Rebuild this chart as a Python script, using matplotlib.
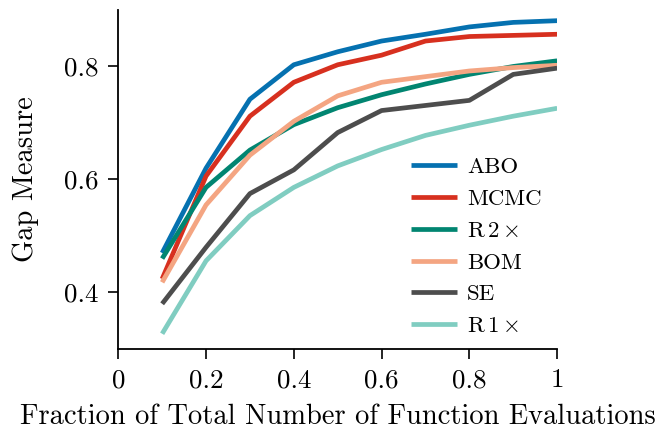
import matplotlib
matplotlib.use("Agg")
import matplotlib.pyplot as plt

plt.rcParams["font.family"] = "serif"
plt.rcParams["font.serif"] = ["cmr10"]
plt.rcParams["mathtext.fontset"] = "cm"
plt.rcParams["axes.formatter.use_mathtext"] = True

fractions = [0.1, 0.2, 0.3, 0.4, 0.5, 0.6, 0.7, 0.8, 0.9, 1.0]

abo = [0.470, 0.620, 0.742, 0.803, 0.826, 0.845, 0.857, 0.870, 0.878, 0.881]
mcmc = [0.424, 0.606, 0.712, 0.772, 0.803, 0.820, 0.845, 0.853, 0.855, 0.857]
r2x = [0.460, 0.586, 0.652, 0.697, 0.727, 0.750, 0.769, 0.786, 0.800, 0.810]
bom = [0.418, 0.555, 0.643, 0.703, 0.748, 0.772, 0.782, 0.792, 0.798, 0.802]
se = [0.380, 0.480, 0.575, 0.617, 0.683, 0.722, 0.731, 0.740, 0.786, 0.797]
r1x = [0.327, 0.456, 0.536, 0.586, 0.624, 0.653, 0.678, 0.696, 0.712, 0.726]

series = [
    ("ABO", abo, "#0571b0"),
    ("MCMC", mcmc, "#d7301f"),
    (r"R$\,2\times$", r2x, "#018571"),
    ("BOM", bom, "#f4a582"),
    ("SE", se, "#4d4d4d"),
    (r"R$\,1\times$", r1x, "#80cdc1"),
]

x_ticks = [0, 0.2, 0.4, 0.6, 0.8, 1.0]
x_tick_labels = ["0", "0.2", "0.4", "0.6", "0.8", "1"]
y_ticks = [0.4, 0.6, 0.8]
y_tick_labels = ["0.4", "0.6", "0.8"]

fig = plt.figure(figsize=(6.57, 4.33), dpi=100)
ax = fig.add_axes([0.18, 0.194, 0.668, 0.783])

for label, vals, color in series:
    ax.plot(fractions, vals, color=color, lw=3.4, label=label, solid_capstyle="butt")

ax.set_xlim(0, 1)
ax.set_ylim(0.3, 0.9)
ax.set_xticks(x_ticks)
ax.set_xticklabels(x_tick_labels)
ax.set_yticks(y_ticks)
ax.set_yticklabels(y_tick_labels)

for side in ["top", "right"]:
    ax.spines[side].set_visible(False)
for side in ["left", "bottom"]:
    ax.spines[side].set_linewidth(1.3)

ax.tick_params(direction="out", length=7, width=1.2, labelsize=19.5, pad=7)
ax.set_xlabel("Fraction of Total Number of Function Evaluations", fontsize=20.5, labelpad=8)
ax.set_ylabel("Gap Measure", fontsize=20.5, labelpad=18)

ax.legend(loc="lower right", frameon=False, fontsize=16.5, handlelength=2.0,
          handletextpad=0.45, labelspacing=0.52, borderaxespad=0.0,
          bbox_to_anchor=(0.985, 0.01))

fig.savefig("out.png", dpi=100)
